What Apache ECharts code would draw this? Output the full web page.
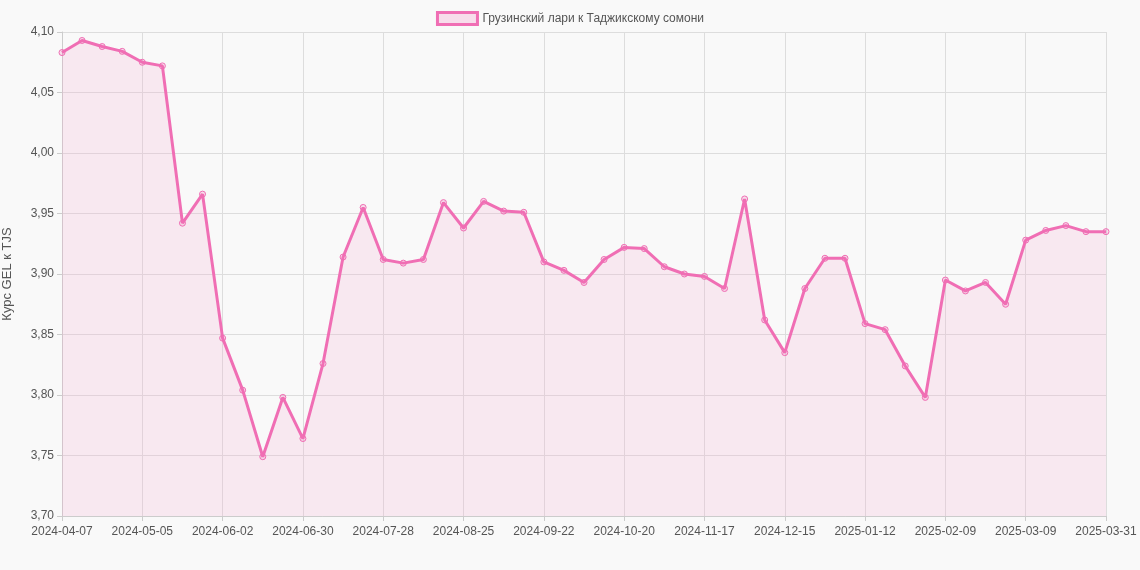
<!DOCTYPE html>
<html><head><meta charset="utf-8">
<script src="https://cdn.jsdelivr.net/npm/echarts@6/dist/echarts.min.js"></script>
<style>html,body{margin:0;background:#f9f9f9}#c{width:1140px;height:570px}</style>
</head><body><div id="c"></div>
<script>
const categories = ["2024-04-07","2024-04-14","2024-04-21","2024-04-28","2024-05-05","2024-05-12","2024-05-19","2024-05-26","2024-06-02","2024-06-09","2024-06-16","2024-06-23","2024-06-30","2024-07-07","2024-07-14","2024-07-21","2024-07-28","2024-08-04","2024-08-11","2024-08-18","2024-08-25","2024-09-01","2024-09-08","2024-09-15","2024-09-22","2024-09-29","2024-10-06","2024-10-13","2024-10-20","2024-10-27","2024-11-03","2024-11-10","2024-11-17","2024-11-24","2024-12-01","2024-12-08","2024-12-15","2024-12-22","2024-12-29","2025-01-05","2025-01-12","2025-01-19","2025-01-26","2025-02-02","2025-02-09","2025-02-16","2025-02-23","2025-03-02","2025-03-09","2025-03-16","2025-03-23","2025-03-30","2025-03-31"];
const values = [4.083,4.093,4.088,4.084,4.075,4.072,3.942,3.966,3.847,3.804,3.749,3.798,3.764,3.826,3.914,3.955,3.912,3.909,3.912,3.959,3.938,3.960,3.952,3.951,3.910,3.903,3.893,3.912,3.922,3.921,3.906,3.900,3.898,3.888,3.962,3.862,3.835,3.888,3.913,3.913,3.859,3.854,3.824,3.798,3.895,3.886,3.893,3.875,3.928,3.936,3.940,3.935,3.935];
const seriesName = "Грузинский лари к Таджикскому сомони";
const chart = echarts.init(document.getElementById('c'));
const ff = '"Liberation Sans", Arial, sans-serif';
const show = (i)=>i%4===0||i===categories.length-1;
chart.setOption({
  backgroundColor:'#f9f9f9',
  animation:false,
  legend:{top:6,itemWidth:40,itemHeight:12,icon:'rect',textStyle:{fontSize:12,color:'#555',fontFamily:ff},
    data:[{name:seriesName,itemStyle:{color:'rgba(240,110,180,0.2)',borderColor:'#f06eb4',borderWidth:3}}]},
  grid:{left:62,right:34,top:32,bottom:54,containLabel:false,outerBoundsMode:'none'},
  xAxis:{type:'category',data:categories,boundaryGap:false,
    axisLine:{lineStyle:{color:'#ccc'}},axisTick:{show:true,interval:show,lineStyle:{color:'#ccc'}},
    axisLabel:{interval:show,color:'#555',fontSize:12,fontFamily:ff,margin:10},
    splitLine:{show:true,interval:show,lineStyle:{color:'#ddd'}}},
  yAxis:{type:'value',min:3.70,max:4.10,interval:0.05,name:'Курс GEL к TJS',nameLocation:'middle',nameGap:48,
    nameTextStyle:{color:'#555',fontSize:13,fontFamily:ff},
    axisLine:{show:true,lineStyle:{color:'#ccc'}},axisTick:{show:true,lineStyle:{color:'#ccc'}},
    axisLabel:{color:'#555',fontSize:12,fontFamily:ff,formatter:v=>v.toFixed(2).replace('.',',')},
    splitLine:{lineStyle:{color:'#ddd'}}},
  series:[{name:seriesName,type:'line',data:values,symbol:'circle',symbolSize:6,
    lineStyle:{color:'#f06eb4',width:3},
    itemStyle:{color:'rgba(240,110,180,0.2)',borderColor:'#f06eb4',borderWidth:1},
    areaStyle:{color:'rgba(245,170,210,0.3)'}}]
});
</script></body></html>
